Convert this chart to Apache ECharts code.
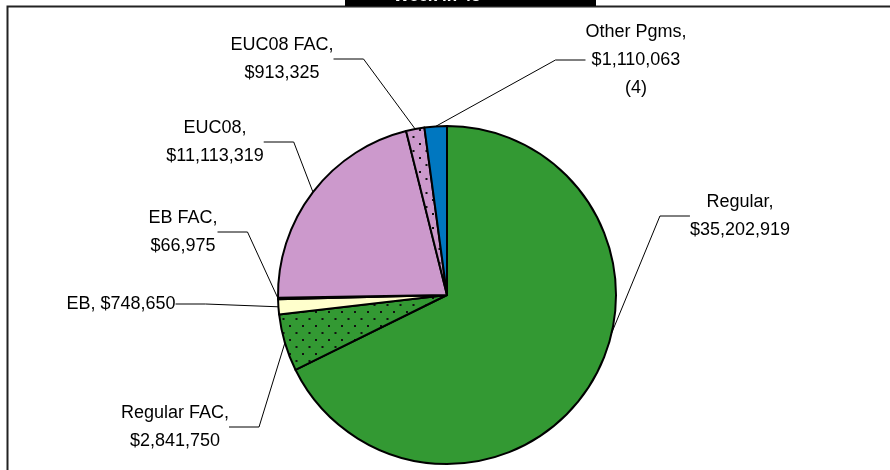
<!DOCTYPE html>
<html>
<head>
<meta charset="utf-8">
<script src="https://cdn.jsdelivr.net/npm/echarts@6/dist/echarts.min.js"></script>
<style>
  html, body { margin: 0; padding: 0; background: #fff; }
  #chart { width: 890px; height: 470px; }
</style>
</head>
<body>
<div id="chart"></div>
<script>
// data
var programs = ['Regular', 'Regular FAC', 'EB', 'EB FAC', 'EUC08', 'EUC08 FAC', 'Other Pgms'];
var amounts = [35202919, 2841750, 748650, 66975, 11113319, 913325, 1110063];
var notes = ['', '', '', '', '', '', '(4)'];
var titleText = 'Week in 45';

// look of each slice
var baseColors = ['#339933', '#339933', '#FFFFCC', '#FFFFCC', '#CC99CC', '#CC99CC', '#0077C0'];
var dotted = [false, true, false, true, false, true, false];
var labelSep = [',\n', ',\n', ', ', ',\n', ',\n', ',\n', ',\n'];
// label centres [x, y]
var labelPos = [[740, 216], [175, 427], [121, 304], [183, 232], [215, 142], [282, 59], [636, 60]];

function dotPattern(bg) {
  var c = document.createElement('canvas');
  c.width = 13; c.height = 14;
  var ctx = c.getContext('2d');
  ctx.fillStyle = bg;
  ctx.fillRect(0, 0, 13, 14);
  ctx.fillStyle = '#111';
  ctx.fillRect(3, 3, 2, 2);
  ctx.fillRect(9.5, 10, 2, 2);
  return { image: c, repeat: 'repeat' };
}

function money(v) {
  return '$' + v.toString().replace(/\B(?=(\d{3})+(?!\d))/g, ',');
}

var pieData = programs.map(function (name, i) {
  return {
    name: name,
    value: amounts[i],
    itemStyle: { color: dotted[i] ? dotPattern(baseColors[i]) : baseColors[i] }
  };
});

var myChart = echarts.init(document.getElementById('chart'));
var option = {
  animation: false,
  backgroundColor: '#fff',
  graphic: [
    {
      type: 'rect',
      shape: { x: 7.5, y: 6.5, width: 1000, height: 1000 },
      style: { fill: 'none', stroke: '#222', lineWidth: 2 },
      z: 10
    },
    {
      type: 'rect',
      shape: { x: 345, y: -30, width: 251, height: 36 },
      style: { fill: '#000' },
      z: 11
    },
    {
      type: 'text',
      x: 437, y: 5,
      style: {
        text: titleText, fill: '#fff', font: 'bold 17px "Liberation Sans", Arial',
        align: 'center', verticalAlign: 'bottom'
      },
      z: 12
    }
  ],
  series: [
    {
      type: 'pie',
      center: [447, 295],
      radius: [0, 169],
      startAngle: 90,
      clockwise: true,
      minAngle: 0,
      avoidLabelOverlap: false,
      data: pieData,
      itemStyle: { borderColor: '#000', borderWidth: 2 },
      label: {
        show: true,
        position: 'outside',
        color: '#000',
        fontFamily: '"Liberation Sans", Arial, sans-serif',
        fontSize: 18,
        lineHeight: 28,
        align: 'center',
        formatter: function (p) {
          var i = p.dataIndex;
          var t = p.name + labelSep[i] + money(p.value);
          if (notes[i]) t += '\n' + notes[i];
          return t;
        }
      },
      labelLine: {
        show: true,
        lineStyle: { color: '#000', width: 1 }
      },
      labelLayout: function (params) {
        var pos = labelPos[params.dataIndex];
        return { x: pos[0], y: pos[1], align: 'center', verticalAlign: 'middle' };
      },
      emphasis: { disabled: true }
    }
  ]
};
myChart.setOption(option);
</script>
</body>
</html>
